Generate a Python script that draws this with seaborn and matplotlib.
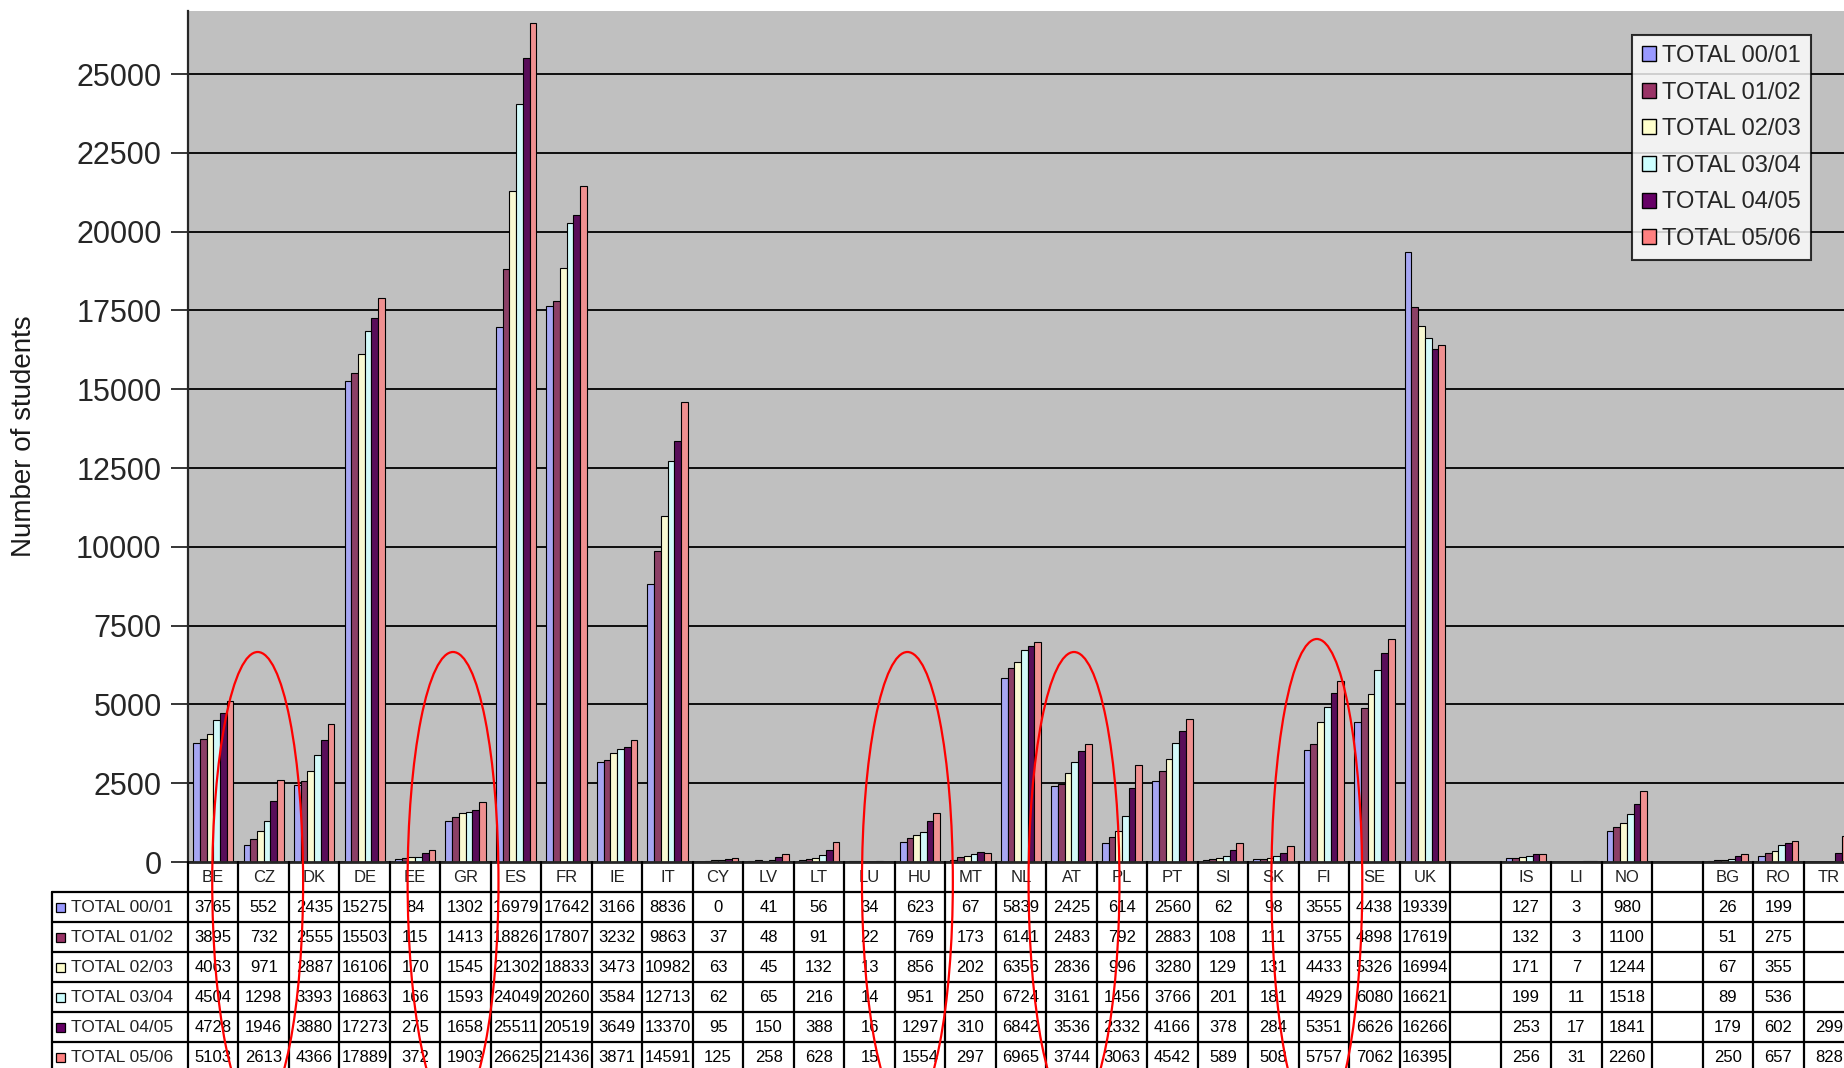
import numpy as np
import pandas as pd
import seaborn as sns
import matplotlib.pyplot as plt
import matplotlib.transforms as mtransforms
from matplotlib.lines import Line2D
from matplotlib.patches import Patch, Ellipse, Rectangle

nan = np.nan

countries = ["BE", "CZ", "DK", "DE", "EE", "GR", "ES", "FR", "IE", "IT", "CY", "LV", "LT",
             "LU", "HU", "MT", "NL", "AT", "PL", "PT", "SI", "SK", "FI", "SE", "UK", " ",
             "IS", "LI", "NO", "  ", "BG", "RO", "TR"]
years = ["TOTAL 00/01", "TOTAL 01/02", "TOTAL 02/03", "TOTAL 03/04", "TOTAL 04/05", "TOTAL 05/06"]

total_00_01 = [3765, 552, 2435, 15275, 84, 1302, 16979, 17642, 3166, 8836, 0, 41, 56,
               34, 623, 67, 5839, 2425, 614, 2560, 62, 98, 3555, 4438, 19339, nan,
               127, 3, 980, nan, 26, 199, nan]
total_01_02 = [3895, 732, 2555, 15503, 115, 1413, 18826, 17807, 3232, 9863, 37, 48, 91,
               22, 769, 173, 6141, 2483, 792, 2883, 108, 111, 3755, 4898, 17619, nan,
               132, 3, 1100, nan, 51, 275, nan]
total_02_03 = [4063, 971, 2887, 16106, 170, 1545, 21302, 18833, 3473, 10982, 63, 45, 132,
               13, 856, 202, 6356, 2836, 996, 3280, 129, 131, 4433, 5326, 16994, nan,
               171, 7, 1244, nan, 67, 355, nan]
total_03_04 = [4504, 1298, 3393, 16863, 166, 1593, 24049, 20260, 3584, 12713, 62, 65, 216,
               14, 951, 250, 6724, 3161, 1456, 3766, 201, 181, 4929, 6080, 16621, nan,
               199, 11, 1518, nan, 89, 536, nan]
total_04_05 = [4728, 1946, 3880, 17273, 275, 1658, 25511, 20519, 3649, 13370, 95, 150, 388,
               16, 1297, 310, 6842, 3536, 2332, 4166, 378, 284, 5351, 6626, 16266, nan,
               253, 17, 1841, nan, 179, 602, 299]
total_05_06 = [5103, 2613, 4366, 17889, 372, 1903, 26625, 21436, 3871, 14591, 125, 258, 628,
               15, 1554, 297, 6965, 3744, 3063, 4542, 589, 508, 5757, 7062, 16395, nan,
               256, 31, 2260, nan, 250, 657, 828]

series = [total_00_01, total_01_02, total_02_03, total_03_04, total_04_05, total_05_06]
colors = ["#9999FF", "#993366", "#FFFFCC", "#CCFFFF", "#660066", "#FF8080"]

# hand drawn red circles (annotation, category centres)
circled = ["CZ", "GR", "HU", "AT", "FI"]
circle_shift = [-0.12, -0.25, -0.25, 0.05, -0.14]

# --- long table for seaborn ---
rows = []
for yr, vals in zip(years, series):
    for c, v in zip(countries, vals):
        if not np.isnan(v):
            rows.append({"country": c, "year": yr, "students": v})
df = pd.DataFrame(rows)

sns.set_style("white")
plt.rcParams["font.family"] = ["Liberation Sans", "DejaVu Sans"]

fig = plt.figure(figsize=(18.44, 10.68), dpi=100)
W, H = 1844, 1068
ax = fig.add_axes([188 / W, 206 / H, 1666 / W, 851 / H])
ax.set_facecolor("#C0C0C0")

sns.barplot(data=df, x="country", y="students", hue="year", order=countries,
            hue_order=years, palette=colors, errorbar=None, width=0.8,
            edgecolor="black", linewidth=0.8, legend=False, ax=ax)

ax.set_xlim(-0.5, len(countries) - 0.5)
ax.set_ylim(0, 27000)
ax.set_yticks(np.arange(0, 25001, 2500))
ax.yaxis.grid(True, color="black", linewidth=1.3)
ax.set_axisbelow(True)
ax.tick_params(axis="y", direction="out", length=12, width=1.3, left=True,
               labelsize=22, labelcolor="#262626", pad=7)
ax.set_xticks([])
ax.set_xlabel("")
ax.set_ylabel("Number of students", fontsize=20, labelpad=28, color="#1a1a1a")
for s in ["top", "right"]:
    ax.spines[s].set_visible(False)
ax.spines["left"].set_linewidth(1.6)
ax.spines["bottom"].set_linewidth(2.0)

handles = [Patch(facecolor=c, edgecolor="black", linewidth=1.0) for c in colors]
leg = ax.legend(handles, years, loc="upper left", bbox_to_anchor=((1632 - 188) / 1666, 1 - 24 / 851),
                fontsize=17, frameon=True, fancybox=False, handlelength=0.6, handleheight=0.6,
                handletextpad=0.25, labelspacing=0.62, borderpad=0.42, borderaxespad=0)
leg.get_frame().set_edgecolor("black")
leg.get_frame().set_linewidth(1.5)

# --- data table under the chart ---
blend = mtransforms.blended_transform_factory(ax.transData, fig.transFigure)
row_px = [862, 892, 922, 952, 982, 1012, 1042, 1072]
row_y = [1 - p / H for p in row_px]
lab_left, lab_right = 52 / W, 188 / W
n = len(countries)

for i, c in enumerate(countries):
    fig.text(i, (row_y[0] + row_y[1]) / 2, c, transform=blend, ha="center", va="center",
             fontsize=12, color="#222222")
    for r, vals in enumerate(series):
        v = vals[i]
        if not np.isnan(v):
            fig.text(i, (row_y[r + 1] + row_y[r + 2]) / 2, f"{int(v)}", transform=blend,
                     ha="center", va="center", fontsize=12, color="black")

for k in range(n + 1):
    fig.add_artist(Line2D([k - 0.5, k - 0.5], [row_y[0], row_y[-1]], transform=blend,
                          color="black", linewidth=1.6))
for y in row_y[1:]:
    fig.add_artist(Line2D([-0.5, n - 0.5], [y, y], transform=blend, color="black", linewidth=1.6))
    fig.add_artist(Line2D([lab_left, lab_right], [y, y], transform=fig.transFigure,
                          color="black", linewidth=1.6))
fig.add_artist(Line2D([lab_left, lab_left], [row_y[1], row_y[-1]], transform=fig.transFigure,
                      color="black", linewidth=1.6))

for r, (yr, col) in enumerate(zip(years, colors)):
    yc = (row_y[r + 1] + row_y[r + 2]) / 2
    fig.add_artist(Rectangle((56 / W, yc - 4.5 / H), 9 / W, 9 / H, transform=fig.transFigure,
                             facecolor=col, edgecolor="black", linewidth=0.9))
    fig.text(71 / W, yc, yr, ha="left", va="center", fontsize=12.5, color="#222222")

# --- red circles ---
for c, dx in zip(circled, circle_shift):
    i = countries.index(c)
    hgt = 486 / H if c == "FI" else 460 / H
    fig.add_artist(Ellipse((i + dx, 1 - 882 / H), width=1.8, height=hgt, transform=blend,
                           fill=False, edgecolor="red", linewidth=1.6, zorder=10))

fig.savefig("out.png", dpi=100)
